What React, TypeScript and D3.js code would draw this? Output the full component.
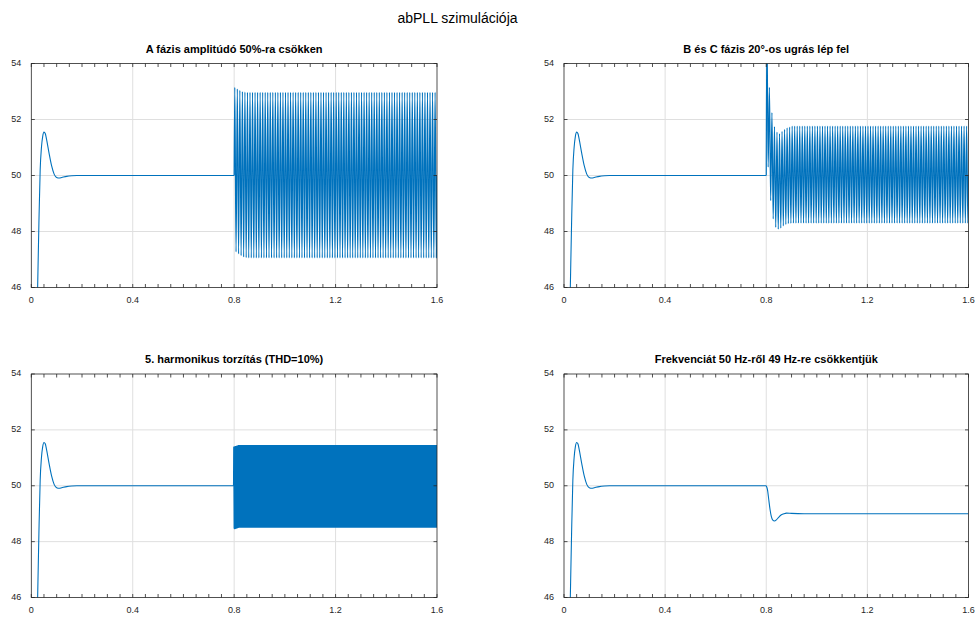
import React from 'react';
import * as d3 from 'd3';

const W = 976;
const H = 617;

const figTitle = 'abPLL szimulációja';
const panelTitles = [
  'A fázis amplitúdó 50%-ra csökken',
  'B és C fázis 20°-os ugrás lép fel',
  '5. harmonikus torzítás (THD=10%)',
  'Frekvenciát 50 Hz-ről 49 Hz-re csökkentjük',
];

const xTicks = [0, 0.4, 0.8, 1.2, 1.6];
const xTickLabels = ['0', '0.4', '0.8', '1.2', '1.6'];
const yTicks = [46, 48, 50, 52, 54];
const yTickLabels = ['46', '48', '50', '52', '54'];
const xDomain = [0, 1.6];
const yDomain = [46, 54];
const xMinorStep = 0.05;

// common PLL start-up transient (t [s], f [Hz])
const startT = [0, 0.015, 0.025, 0.03, 0.035, 0.04, 0.045, 0.05, 0.055, 0.06, 0.07, 0.08, 0.09, 0.1, 0.11, 0.12, 0.14, 0.16, 0.18, 0.8];
const startF = [35, 41.5, 46, 48.3, 50.2, 51.0, 51.4, 51.55, 51.5, 51.3, 50.8, 50.35, 50.05, 49.93, 49.91, 49.93, 49.97, 49.99, 50.0, 50.0];

// panel 1: 100 Hz ripple after 0.8 s (alternating peaks, then steady peaks)
const p1Half = 0.005;
const p1Count = 160;
const p1Peaks = [53.15, 47.27, 53.09, 47.2, 53.04, 47.14, 53.0, 47.09, 52.98, 47.07];
const p1SteadyHigh = 52.97;
const p1SteadyLow = 47.06;

// panel 2: phase jump, 100 Hz ripple
const p2Half = 0.005;
const p2Count = 160;
const p2Peaks = [55.5, 50.3, 53.15, 49.1, 52.25, 48.45, 51.75, 48.15, 51.55, 48.08, 51.5, 48.12, 51.58, 48.2, 51.65, 48.25, 51.7, 48.28, 51.73, 48.29];
const p2SteadyHigh = 51.76;
const p2SteadyLow = 48.3;

// panel 3: 5th harmonic, 300 Hz ripple
const p3Half = 1 / 600;
const p3Count = 480;
const p3Peaks = [51.37, 48.49, 51.38, 48.5, 51.39, 48.51, 51.4, 48.52, 51.41, 48.53];
const p3SteadyHigh = 51.42;
const p3SteadyLow = 48.54;

// panel 4: frequency step 50 -> 49 Hz
const p4T = [0.8, 0.805, 0.81, 0.815, 0.82, 0.825, 0.833, 0.84, 0.85, 0.86, 0.87, 0.88, 0.9, 0.95, 1.6];
const p4F = [50.0, 49.85, 49.5, 49.15, 48.9, 48.78, 48.74, 48.78, 48.88, 48.96, 49.0, 49.02, 49.01, 49.0, 49.0];

const oscStart = 0.8;

type Pt = [number, number];

function baseSeries(): Pt[] {
  return startT.map((t, i) => [t, startF[i]] as Pt);
}

function oscSeries(half: number, count: number, peaks: number[], hi: number, lo: number): Pt[] {
  const pts: Pt[] = [[oscStart, 50]];
  for (let i = 0; i < count; i++) {
    const v = i < peaks.length ? peaks[i] : i % 2 === 0 ? hi : lo;
    pts.push([oscStart + (i + 0.5) * half, v]);
  }
  pts.push([1.6, (hi + lo) / 2]);
  return pts;
}

// each panel: [start-up segment, post-0.8 s segment]
const series: Pt[][][] = [
  [baseSeries(), oscSeries(p1Half, p1Count, p1Peaks, p1SteadyHigh, p1SteadyLow)],
  [baseSeries(), oscSeries(p2Half, p2Count, p2Peaks, p2SteadyHigh, p2SteadyLow)],
  [baseSeries(), oscSeries(p3Half, p3Count, p3Peaks, p3SteadyHigh, p3SteadyLow)],
  [baseSeries(), p4T.map((t, i) => [t, p4F[i]] as Pt)],
];

const panels = [
  { x0: 31.3, x1: 437, y0: 63.5, y1: 287.5 },
  { x0: 564, x1: 968.5, y0: 63.5, y1: 287.5 },
  { x0: 31.3, x1: 437, y0: 374, y1: 597.5 },
  { x0: 564, x1: 968.5, y0: 374, y1: 597.5 },
];
const segWidths = [
  [1.1, 1.2],
  [1.1, 1.2],
  [1.1, 2.4],
  [1.1, 1.1],
];

const FONT = '"Liberation Sans", Arial, Helvetica, sans-serif';
const AX = '#262626';
const GRID = '#dfdfdf';
const LINE = '#0072BD';
const TL = 3.5;

function Panel({ idx }: { idx: number }) {
  const p = panels[idx];
  const x = d3.scaleLinear().domain(xDomain).range([p.x0, p.x1]);
  const y = d3.scaleLinear().domain(yDomain).range([p.y1, p.y0]);
  const smooth = d3
    .line<Pt>()
    .x((d) => x(d[0]))
    .y((d) => y(d[1]))
    .curve(d3.curveMonotoneX);
  const straight = d3
    .line<Pt>()
    .x((d) => x(d[0]))
    .y((d) => y(d[1]));
  const minor = d3.range(0, 1.6 + 1e-9, xMinorStep);
  const clipId = `clip${idx}`;
  return (
    <g>
      <defs>
        <clipPath id={clipId}>
          <rect x={p.x0} y={p.y0} width={p.x1 - p.x0} height={p.y1 - p.y0} />
        </clipPath>
      </defs>
      <rect x={p.x0} y={p.y0} width={p.x1 - p.x0} height={p.y1 - p.y0} fill="#fff" />
      {xTicks.slice(1, -1).map((t) => (
        <line key={'gx' + t} x1={x(t)} x2={x(t)} y1={p.y0} y2={p.y1} stroke={GRID} strokeWidth={1} />
      ))}
      {yTicks.slice(1, -1).map((t) => (
        <line key={'gy' + t} x1={p.x0} x2={p.x1} y1={y(t)} y2={y(t)} stroke={GRID} strokeWidth={1} />
      ))}
      <g clipPath={`url(#${clipId})`}>
        {series[idx].map((seg, k) => (
          <path
            key={k}
            d={(idx === 2 && k === 1 ? straight(seg) : smooth(seg)) || ''}
            fill="none"
            stroke={LINE}
            strokeWidth={segWidths[idx][k]}
            strokeLinejoin="round"
          />
        ))}
      </g>
      <rect x={p.x0} y={p.y0} width={p.x1 - p.x0} height={p.y1 - p.y0} fill="none" stroke={AX} strokeWidth={0.8} />
      {minor.map((t, i) => (
        <g key={'mt' + i}>
          <line x1={x(t)} x2={x(t)} y1={p.y1} y2={p.y1 - TL} stroke={AX} strokeWidth={0.8} />
          <line x1={x(t)} x2={x(t)} y1={p.y0} y2={p.y0 + TL} stroke={AX} strokeWidth={0.8} />
        </g>
      ))}
      {yTicks.map((t) => (
        <g key={'yt' + t}>
          <line x1={p.x0} x2={p.x0 + TL} y1={y(t)} y2={y(t)} stroke={AX} strokeWidth={0.8} />
          <line x1={p.x1} x2={p.x1 - TL} y1={y(t)} y2={y(t)} stroke={AX} strokeWidth={0.8} />
        </g>
      ))}
      {xTicks.map((t, i) => (
        <text key={'xl' + t} x={x(t)} y={p.y1 + 15} textAnchor="middle" fontSize={9} fill={AX} fontFamily={FONT}>
          {xTickLabels[i]}
        </text>
      ))}
      {yTicks.map((t, i) => (
        <text key={'yl' + t} x={p.x0 - 10} y={y(t) + 2} textAnchor="end" fontSize={9} fill={AX} fontFamily={FONT}>
          {yTickLabels[i]}
        </text>
      ))}
      <text x={(p.x0 + p.x1) / 2} y={p.y0 - 11} textAnchor="middle" fontSize={11} fontWeight="bold" fill="#000" fontFamily={FONT}>
        {panelTitles[idx]}
      </text>
    </g>
  );
}

export default function App() {
  return (
    <svg width={W} height={H} style={{ position: 'absolute', left: 0, top: 0, background: '#fff' }}>
      <rect x={0} y={0} width={W} height={H} fill="#fff" />
      <text x={457.5} y={23} textAnchor="middle" fontSize={14} fill="#000" fontFamily={FONT}>
        {figTitle}
      </text>
      {panels.map((_, i) => (
        <Panel key={i} idx={i} />
      ))}
    </svg>
  );
}
